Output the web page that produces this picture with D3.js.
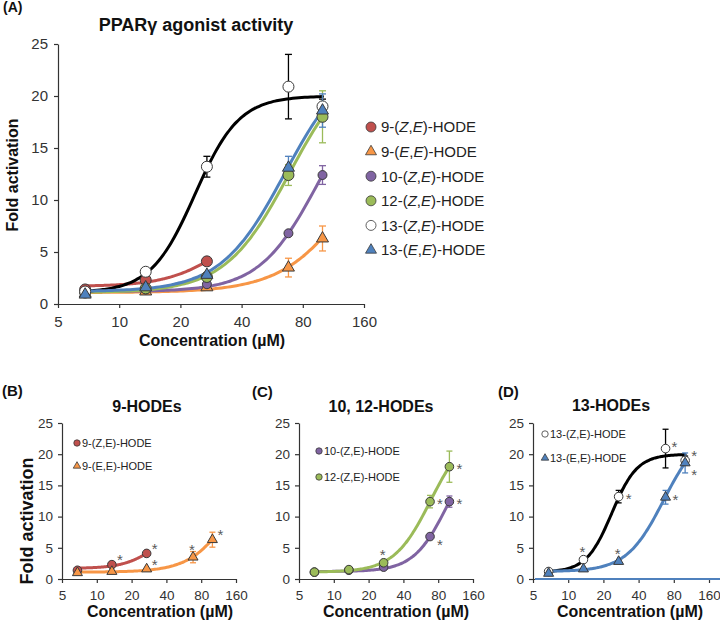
<!DOCTYPE html>
<html lang="en">
<head>
<meta charset="UTF-8">
<title>PPARg agonist activity of HODEs</title>
<script src="https://cdn.jsdelivr.net/npm/d3@7"></script>
<style>
	body { margin: 0; background: #fff; }
	svg { display: block; font-family: 'Liberation Sans', Arial, Helvetica, sans-serif; }
	.axis path, .axis line { stroke: #333; stroke-width: 1.2; }
	.axis text { fill: #333; }
</style>
</head>
<body>
<div id="chart"></div>
<script>
// data
const conc = [6.8, 13.5, 27, 68, 100];   // µM
const seriesNames = ["9-(Z,E)-HODE", "9-(E,E)-HODE", "10-(Z,E)-HODE", "12-(Z,E)-HODE", "13-(Z,E)-HODE", "13-(E,E)-HODE"];

const fold9ZE  = [1.4, 2.3, 4.1];
const fold9EE  = [1.0, 1.2, 1.6, 3.5, 6.3];
const fold10ZE = [1.1, 1.4, 1.9, 6.8, 12.4];
const fold12ZE = [1.1, 1.5, 2.6, 12.4, 18.0];
const fold13ZE = [1.2, 3.1, 13.2, 20.9, 19.0];
const fold13EE = [0.9, 1.6, 2.8, 13.1, 18.6];

const err9ZE  = [0, 0, 0];
const err9EE  = [0, 0, 0, 0.9, 1.2];
const err10ZE = [0, 0, 0, 0, 0.9];
const err12ZE = [0, 0, 0, 1.0, 2.5];
const err13ZE = [0, 0, 1.0, 3.1, 0.7];
const err13EE = [0, 0, 0, 1.1, 1.6];

// dose-response fit lines (bottom, top, EC50 µM, Hill slope), estimated from the drawn curves
const fitBottom = [1.7, 1.1, 1.2, 1.1, 1.1, 1.2];
const fitTop    = [8, 22, 22, 24, 20, 24];
const fitEC50   = [31.4, 157, 95, 68.7, 23.6, 65.4];
const fitHill   = [3.2, 2.4, 3.0, 2.75, 4.0, 2.75];

const xTicks = [5, 10, 20, 40, 80, 160];
const yTicks = [0, 5, 10, 15, 20, 25];

// significant points (series, point index, where the asterisk goes)
const starsB = [[0, 1, "ur"], [0, 2, "ur"], [1, 2, "ur"], [1, 3, "u"], [1, 4, "ur"]];
const starsC = [[2, 3, "rd"], [2, 4, "r"], [3, 2, "u"], [3, 3, "r"], [3, 4, "r"]];
const starsD = [[4, 1, "u"], [4, 2, "r"], [4, 3, "ru"], [4, 4, "ruu"], [5, 2, "u"], [5, 3, "r"], [5, 4, "rdd"]];

const means = [fold9ZE, fold9EE, fold10ZE, fold12ZE, fold13ZE, fold13EE];
const errs  = [err9ZE, err9EE, err10ZE, err12ZE, err13ZE, err13EE];

// styles
const fillCol  = ["#c0504d", "#f79646", "#8064a2", "#9bbb59", "#ffffff", "#4f81bd"];
const lineCol  = ["#c0504d", "#f79646", "#8064a2", "#9bbb59", "#000000", "#4f81bd"];
const errCol   = ["#c0504d", "#f79646", "#8064a2", "#9bbb59", "#000000", "#4f81bd"];
const shape    = ["circle", "triangle", "circle", "circle", "circle", "triangle"];
const starOff  = { ur: [8, -8], u: [-1, -11], r: [10, -1], rd: [10, 5], ru: [9, -5], ruu: [9, -8], rdd: [9, 9] };

const W = 720, H = 622;
const svg = d3.select("#chart").append("svg").attr("width", W).attr("height", H);

function symbolPath(kind, big) {
	if (kind === "triangle") {
		const s = big ? 12 : 10;
		return d3.symbol(d3.symbolTriangle, s * s * Math.sqrt(3) / 4)();
	}
	const r = big ? 5.5 : 4.3;
	return d3.symbol(d3.symbolCircle, Math.PI * r * r)();
}

function italicName(textSel, name) {
	const parts = name.split(/([ZE])(?=[,)])/);
	parts.forEach(function (p, i) {
		if (p === "") return;
		textSel.append("tspan").attr("font-style", i % 2 === 1 ? "italic" : "normal").text(p);
	});
}

function drawPanel(cfg) {
	const g = svg.append("g");
	const x = d3.scaleLog().base(2).domain([5, 160]).range([cfg.x0, cfg.x1]);
	const y = d3.scaleLinear().domain([0, 25]).range([cfg.y0, cfg.y1]);

	g.append("g").attr("class", "axis")
		.attr("transform", "translate(0," + cfg.y0 + ")")
		.call(d3.axisBottom(x).tickValues(xTicks).tickFormat(d3.format("d")).tickSize(4).tickSizeOuter(0).tickPadding(cfg.xPad))
		.call(s => s.selectAll("text").attr("font-size", cfg.tickFs));
	g.append("g").attr("class", "axis")
		.attr("transform", "translate(" + cfg.x0 + ",0)")
		.call(d3.axisLeft(y).tickValues(yTicks).tickSize(4).tickSizeOuter(0).tickPadding(cfg.yPad))
		.call(s => s.selectAll("text").attr("font-size", cfg.tickFs));
	g.selectAll(".domain").attr("stroke", "#333");

	if (cfg.baseLine) {
		g.append("line").attr("x1", cfg.x0 + 2).attr("x2", W).attr("y1", y(0)).attr("y2", y(0))
			.attr("stroke", "#4f81bd").attr("stroke-width", 2.2);
	}

	const line = d3.line().x(d => x(d[0])).y(d => y(d[1])).curve(d3.curveBasis);
	// fit curves
	cfg.series.forEach(function (s) {
		const cMin = conc[0], cMax = conc[means[s].length - 1];
		const pts = d3.range(0, 81).map(function (i) {
			const c = cMin * Math.pow(cMax / cMin, i / 80);
			return [c, fitBottom[s] + (fitTop[s] - fitBottom[s]) / (1 + Math.pow(fitEC50[s] / c, fitHill[s]))];
		});
		g.append("path").attr("d", line(pts)).attr("fill", "none")
			.attr("stroke", lineCol[s]).attr("stroke-width", 3).attr("stroke-linecap", "round");
	});

	// error bars
	const cap = cfg.big ? 3.5 : 3;
	cfg.series.forEach(function (s) {
		means[s].forEach(function (m, i) {
			const e = errs[s][i];
			if (!e) return;
			const cx = x(conc[i]);
			const eb = g.append("g").attr("stroke", errCol[s]).attr("stroke-width", 1.3);
			eb.append("line").attr("x1", cx).attr("x2", cx).attr("y1", y(m - e)).attr("y2", y(m + e));
			eb.append("line").attr("x1", cx - cap).attr("x2", cx + cap).attr("y1", y(m - e)).attr("y2", y(m - e));
			eb.append("line").attr("x1", cx - cap).attr("x2", cx + cap).attr("y1", y(m + e)).attr("y2", y(m + e));
		});
	});

	// markers
	cfg.series.forEach(function (s) {
		g.selectAll(null).data(means[s]).enter().append("path")
			.attr("d", shape[s] === "circle" && s === 2 && cfg.big ? d3.symbol(d3.symbolCircle, Math.PI * 20)() : symbolPath(shape[s], cfg.big))
			.attr("transform", (d, i) => "translate(" + x(conc[i]) + "," + y(d) + ")")
			.attr("fill", fillCol[s]).attr("stroke", "#3a3a3a").attr("stroke-width", 1);
	});

	// asterisks
	(cfg.stars || []).forEach(function (st) {
		const o = starOff[st[2]];
		g.append("text").attr("x", x(conc[st[1]]) + o[0]).attr("y", y(means[st[0]][st[1]]) + o[1] + 8.5)
			.attr("text-anchor", "middle").attr("font-size", 15).attr("fill", "#595959").text("*");
	});

	// legend
	cfg.series.forEach(function (s, k) {
		const ly = cfg.legY + k * cfg.legDy;
		const kind = shape[s];
		let d;
		if (kind === "triangle") { const sz = cfg.legTri; d = d3.symbol(d3.symbolTriangle, sz * sz * Math.sqrt(3) / 4)(); }
		else d = d3.symbol(d3.symbolCircle, Math.PI * cfg.legR * cfg.legR)();
		g.append("path").attr("d", d).attr("transform", "translate(" + cfg.legX + "," + ly + ")")
			.attr("fill", fillCol[s]).attr("stroke", "#3a3a3a").attr("stroke-width", 0.8);
		const t = g.append("text").attr("x", cfg.legX + cfg.legGap).attr("y", ly + cfg.legFs * 0.36)
			.attr("font-size", cfg.legFs).attr("fill", "#222");
		if (cfg.italic) italicName(t, seriesNames[s]); else t.text(seriesNames[s]);
	});

	// titles and labels
	g.append("text").attr("x", cfg.letterX).attr("y", cfg.letterY).attr("font-size", cfg.letterFs)
		.attr("font-weight", "bold").attr("fill", "#111").text(cfg.letter);
	g.append("text").attr("x", cfg.titleX).attr("y", cfg.titleY).attr("text-anchor", "middle")
		.attr("font-size", cfg.titleFs).attr("font-weight", "bold").attr("fill", "#111").text(cfg.title);
	g.append("text").attr("x", cfg.xLabX).attr("y", cfg.xLabY).attr("text-anchor", "middle")
		.attr("font-size", cfg.xLabFs).attr("font-weight", "bold").attr("fill", "#111").text("Concentration (\u00b5M)");
	if (cfg.yLab) {
		g.append("text").attr("transform", "translate(" + cfg.yLabX + "," + cfg.yLabY + ") rotate(-90)")
			.attr("text-anchor", "middle").attr("font-size", cfg.yLabFs).attr("font-weight", "bold")
			.attr("fill", "#111").text("Fold activation");
	}
}

// (A)
drawPanel({
	big: true, x0: 58, x1: 364, y0: 304, y1: 44, tickFs: 15, xPad: 8, yPad: 6,
	series: [0, 1, 2, 3, 4, 5],
	legX: 371, legY: 127, legDy: 24.6, legGap: 10, legFs: 15, legR: 5, legTri: 11, italic: true,
	letter: "(A)", letterX: 3, letterY: 12, letterFs: 14,
	title: "PPAR\u03b3 agonist activity", titleX: 196, titleY: 31, titleFs: 18,
	xLabX: 212, xLabY: 346, xLabFs: 16, yLab: true, yLabX: 18, yLabY: 175, yLabFs: 16
});
// (B)
drawPanel({
	big: false, x0: 62, x1: 236, y0: 579, y1: 423, tickFs: 13.5, xPad: 7, yPad: 5,
	series: [0, 1], stars: starsB,
	legX: 77, legY: 443, legDy: 23, legGap: 5, legFs: 11, legR: 3.2, legTri: 7.5, italic: false,
	letter: "(B)", letterX: 2, letterY: 396, letterFs: 15,
	title: "9-HODEs", titleX: 147, titleY: 412, titleFs: 16,
	xLabX: 160, xLabY: 617, xLabFs: 16, yLab: true, yLabX: 33, yLabY: 521, yLabFs: 18
});
// (C)
drawPanel({
	big: false, x0: 299, x1: 473, y0: 579, y1: 423, tickFs: 13.5, xPad: 7, yPad: 5,
	series: [2, 3], stars: starsC,
	legX: 319, legY: 451, legDy: 26, legGap: 5, legFs: 11, legR: 3.2, legTri: 7.5, italic: false,
	letter: "(C)", letterX: 252, letterY: 397, letterFs: 15,
	title: "10, 12-HODEs", titleX: 381, titleY: 412, titleFs: 16,
	xLabX: 396, xLabY: 617, xLabFs: 16, yLab: false
});
// (D)
drawPanel({
	big: false, x0: 533, x1: 709, y0: 579, y1: 423, tickFs: 13.5, xPad: 7, yPad: 5,
	series: [4, 5], stars: starsD, baseLine: true,
	legX: 545, legY: 434, legDy: 24, legGap: 5, legFs: 11, legR: 3.2, legTri: 7.5, italic: false,
	letter: "(D)", letterX: 498, letterY: 397, letterFs: 15,
	title: "13-HODEs", titleX: 611, titleY: 411, titleFs: 16,
	xLabX: 630, xLabY: 617, xLabFs: 16, yLab: false
});
</script>
</body>
</html>
